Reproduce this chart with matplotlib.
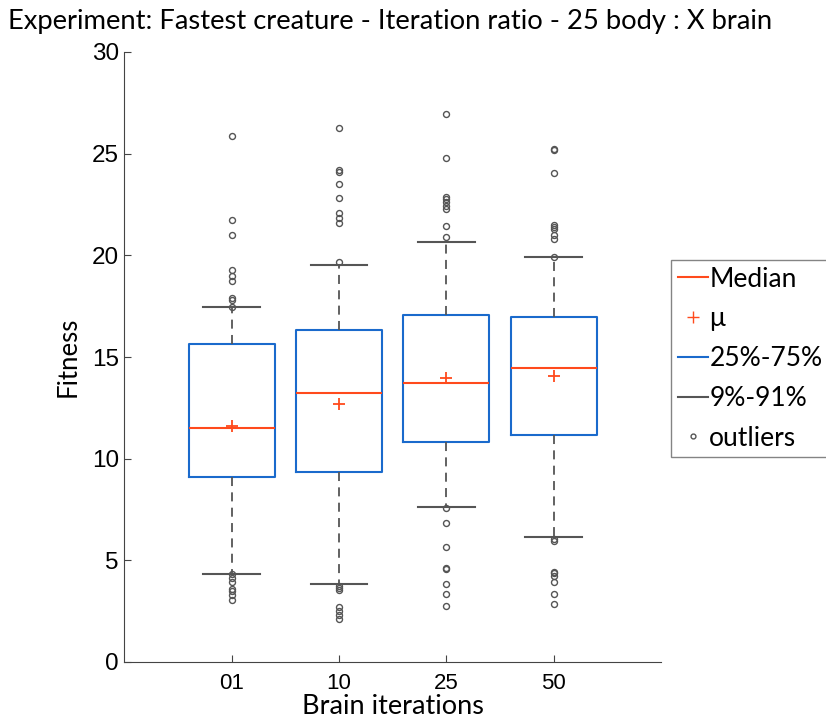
import matplotlib.pyplot as plt
from matplotlib.lines import Line2D

# brain iteration groups
labels = ['01', '10', '25', '50']

# box statistics per group
q1 = [9.10, 9.35, 10.82, 11.18]
q3 = [15.63, 16.35, 17.05, 16.98]
medians = [11.50, 13.25, 13.72, 14.48]
means = [11.62, 12.67, 13.95, 14.07]
whislo = [4.34, 3.82, 7.61, 6.13]
whishi = [17.46, 19.51, 20.67, 19.92]

outliers_01 = [25.87, 21.72, 20.99, 19.27, 19.00, 18.72, 17.89, 17.80, 17.46,
               4.34, 4.15, 3.94, 3.58, 3.50, 3.30, 3.05]
outliers_10 = [26.27, 24.20, 24.10, 23.50, 22.80, 22.10, 21.86, 21.60, 19.66,
               3.74, 3.62, 3.54, 2.69, 2.51, 2.33, 2.13]
outliers_25 = [26.95, 24.79, 22.86, 22.76, 22.63, 22.45, 22.27, 21.43, 20.92,
               7.57, 6.82, 5.67, 4.64, 4.57, 3.84, 3.36, 2.77]
outliers_50 = [25.23, 25.17, 24.07, 21.51, 21.41, 21.31, 21.02, 20.81, 19.94,
               6.05, 5.95, 4.44, 4.36, 4.23, 3.95, 3.36, 2.85]
outliers = [outliers_01, outliers_10, outliers_25, outliers_50]

BLUE = '#1a6acc'
RED = '#ff4a1c'
GRAY = '#555555'

stats = []
for i in range(len(labels)):
    stats.append({
        'label': labels[i],
        'q1': q1[i], 'q3': q3[i], 'med': medians[i], 'mean': means[i],
        'whislo': whislo[i], 'whishi': whishi[i], 'fliers': outliers[i],
    })

fig = plt.figure(figsize=(8.26, 7.2), dpi=100)
ax = fig.add_axes([124.4 / 826, 58 / 720, 536.5 / 826, 610 / 720])

ax.bxp(stats, positions=[1, 2, 3, 4], widths=0.8, showmeans=True,
       boxprops=dict(color=BLUE, linewidth=1.5),
       medianprops=dict(color=RED, linewidth=1.5),
       whiskerprops=dict(color=GRAY, linewidth=1.3, linestyle=(0, (5, 3.5))),
       capprops=dict(color=GRAY, linewidth=1.5),
       capwidths=0.53,
       meanprops=dict(marker='+', markeredgecolor=RED, markersize=8,
                      markeredgewidth=1.3, linestyle='none'),
       flierprops=dict(marker='o', markersize=4.3, markerfacecolor='none',
                       markeredgecolor=GRAY, markeredgewidth=1.0))

ax.set_xlim(0, 5)
ax.set_ylim(0, 30)
ax.set_yticks([0, 5, 10, 15, 20, 25, 30])
ax.set_xticks([1, 2, 3, 4])
ax.set_xticklabels(labels)
for s in ['top', 'right']:
    ax.spines[s].set_visible(False)
for s in ['left', 'bottom']:
    ax.spines[s].set_color('#444444')
ax.tick_params(axis='both', direction='in', length=5, color='#444444')
ax.tick_params(axis='x', pad=8)
ax.tick_params(axis='y', pad=4)
for t in ax.get_xticklabels():
    t.set_fontfamily('Liberation Sans')
    t.set_fontsize(16)
for t in ax.get_yticklabels():
    t.set_fontfamily('Liberation Sans')
    t.set_fontsize(17.5)

lato = 'Lato'
ax.set_xlabel('Brain iterations', fontfamily=lato, fontsize=19.5, labelpad=0)
ax.set_ylabel('Fitness', fontfamily=lato, fontsize=18.5, labelpad=8)
fig.text(8 / 826, 1 - 21 / 720, 'Experiment: Fastest creature - Iteration ratio - 25 body : X brain',
         fontfamily=lato, fontsize=19.7, va='center', ha='left')

handles = [
    Line2D([], [], color=RED, linewidth=1.5),
    Line2D([], [], color=RED, marker='+', linestyle='none', markersize=8),
    Line2D([], [], color=BLUE, linewidth=1.5),
    Line2D([], [], color=GRAY, linewidth=1.5),
    Line2D([], [], color=GRAY, marker='o', markerfacecolor='none',
           linestyle='none', markersize=3.5),
]
names = ['Median', '\u03bc', '25%-75%', '9%-91%', 'outliers']
leg = fig.legend(handles, names, loc='upper left',
                 bbox_to_anchor=(671 / 826, 1 - 260 / 720),
                 prop={'family': [lato, 'DejaVu Sans'], 'size': 19},
                 frameon=True, fancybox=False, borderaxespad=0,
                 handlelength=1.15, handletextpad=0.05, borderpad=0.25,
                 labelspacing=0.56)
leg.get_frame().set_edgecolor('#666666')
leg.get_frame().set_linewidth(1.0)

fig.savefig('out.png', dpi=100)
